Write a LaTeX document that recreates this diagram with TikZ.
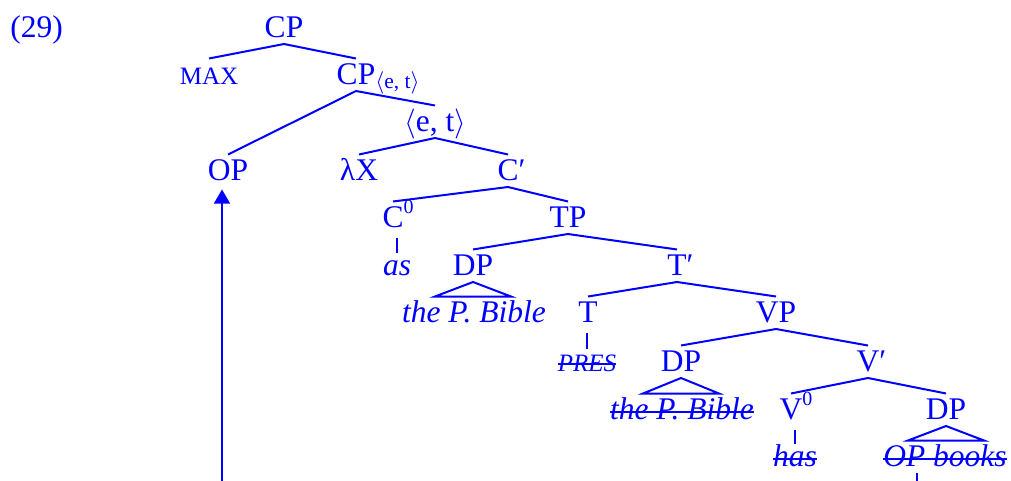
\documentclass[tikz,border=0pt]{standalone}
\usepackage{fontspec}
\setmainfont{Liberation Serif}
\usetikzlibrary{arrows.meta}
\colorlet{treecolor}{blue}
\newsavebox{\strikebox}
\newcommand{\strike}[1]{\sbox{\strikebox}{#1}\rlap{\rule[2.4pt]{\wd\strikebox}{0.8pt}}\usebox{\strikebox}}
\newcommand{\hd}[2]{#1\rlap{\raisebox{5.5pt}{\fontsize{8}{8}\selectfont #2}}}
\newcommand{\br}[1]{#1\rlap{′}}
\def\roof#1#2{\draw[branch] (#1.south) -- ([xshift=-15.2pt]#1.south |- #2.north) -- ([xshift=15.2pt]#1.south |- #2.north) -- cycle;}
\tikzset{
	cat/.style={anchor=base,inner sep=0pt,text height=10pt,text depth=2.6pt,text=treecolor,font=\fontsize{12.6}{15}\selectfont},
	small/.style={cat,font=\fontsize{10}{12}\selectfont},
	lex/.style={cat,font=\fontsize{12.6}{15}\selectfont\itshape},
	branch/.style={draw=treecolor,line width=0.8pt},
	unary/.style={branch,shorten <=1.4pt,shorten >=-1.2pt},
	trace/.style={draw=treecolor,line width=0.45pt},
	move/.style={trace,->},
	>={Triangle[width=6.4pt,length=5.6pt]},
	}
\begin{document}
\begin{tikzpicture}[x=0.4pt,y=-0.4pt]
\clip (0,0) rectangle (1011,480);

\node[cat,anchor=base west] (ex) at (10,37) {(29)};
\node[cat] (cp) at (284,37) {CP};
\node[small] (max) at (209,84) {MAX};
\node[cat] (cpet) at (356,84) {CP\rlap{\raisebox{-1.6pt}{\fontsize{8.6}{9}\selectfont$\langle$e, t$\rangle$}}};
\node[cat] (let) at (435,131) {$\langle$e, t$\rangle$};
\node[cat] (op) at (228,180) {OP};
\node[cat] (lx) at (359,180) {λX};
\node[cat] (cbar) at (508,180) {\br{C}};
\node[cat] (czero) at (393,227) {\hd{C}{0}};
\node[cat] (tp) at (568,227) {TP};
\node[lex] (as) at (397,275) {as};
\node[cat] (dpa) at (473,275) {DP};
\node[cat] (tbar) at (677,275) {\br{T}};
\node[lex] (bible) at (474,322) {the P. Bible};
\node[cat] (t) at (588,322) {T};
\node[cat] (vp) at (776,322) {VP};
\node[small,font=\fontsize{10}{12}\selectfont\itshape] (pres) at (587,371) {\strike{PRES}};
\node[cat] (dpb) at (681,371) {DP};
\node[cat] (vbar) at (868,371) {\br{V}};
\node[lex] (bibleb) at (682,419) {\strike{the P. Bible}};
\node[cat] (vzero) at (791,419) {\hd{V}{0}};
\node[cat] (dpc) at (946,419) {DP};
\node[lex] (has) at (795,466) {\strike{has}};
\node[lex] (opbooks) at (945,466) {\strike{OP books}};

\foreach \a/\b in {cp/max,cp/cpet,cpet/op,cpet/let,let/lx,let/cbar,cbar/czero,cbar/tp,tp/dpa,tp/tbar,tbar/t,tbar/vp,vp/dpb,vp/vbar,vbar/vzero,vbar/dpc}
  \draw[branch] (\a.south) -- (\b.north);
\foreach \a/\b in {czero/as,t/pres,vzero/has}
  \draw[unary] (\a.south -| \b.north) -- (\b.north);
\roof{dpa}{bible}
\roof{dpb}{bibleb}
\roof{dpc}{opbooks}

\coordinate (tracefoot) at (917,490);
\coordinate (mvfoot) at (222,490);
\draw[trace] (tracefoot |- opbooks.south) -- (tracefoot);
\draw[move,shorten >=1pt] (mvfoot) -- (mvfoot |- op.south);
\end{tikzpicture}
\end{document}
